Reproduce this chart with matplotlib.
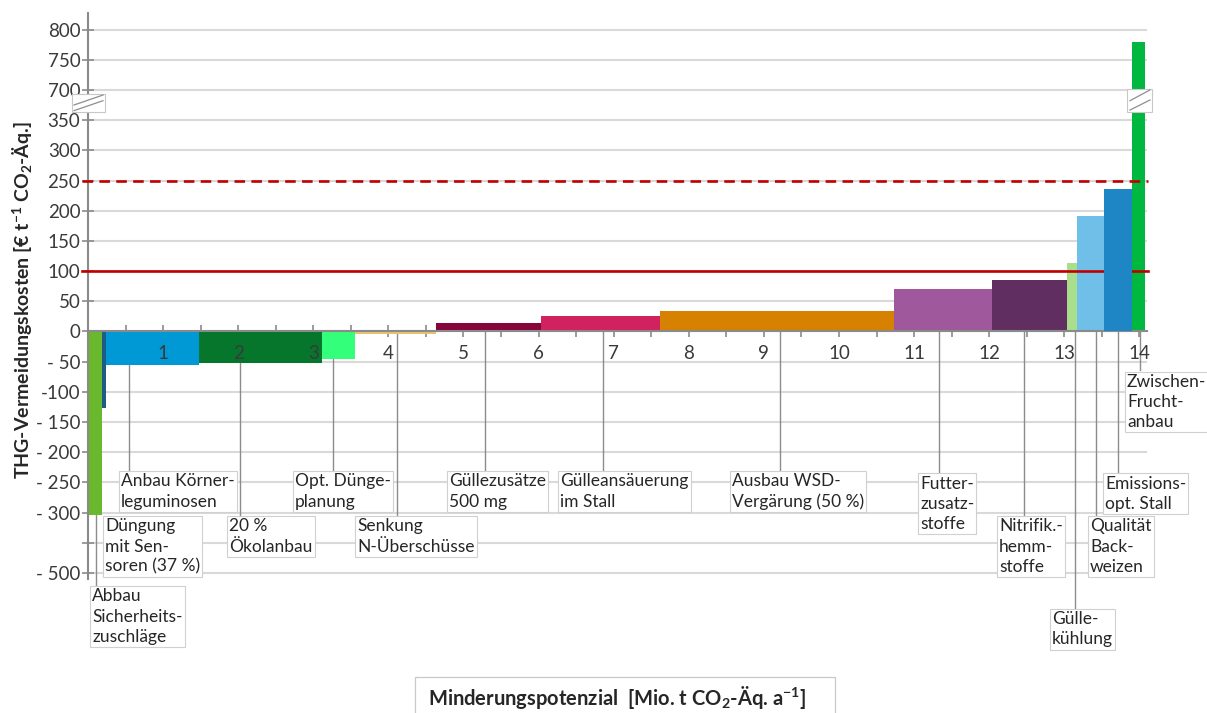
import numpy as np
import matplotlib
matplotlib.use("Agg")
import matplotlib.pyplot as plt
from matplotlib.patches import Rectangle
from matplotlib.ticker import FixedLocator, NullLocator

plt.rcParams['font.family'] = ['Lato', 'DejaVu Sans']
plt.rcParams['mathtext.fontset'] = 'custom'
plt.rcParams['mathtext.rm'] = 'Lato'
plt.rcParams['mathtext.bf'] = 'Lato:bold'
plt.rcParams['mathtext.default'] = 'bf'

# Maßnahmen (in Reihenfolge der Vermeidungskosten)
measures = [
    "Abbau\nSicherheits-\nzuschläge",
    "Düngung\nmit Sen-\nsoren (37 %)",
    "Anbau Körner-\nleguminosen",
    "20 %\nÖkolanbau",
    "Opt. Dünge-\nplanung",
    "Senkung\nN-Überschüsse",
    "Güllezusätze\n500 mg",
    "Gülleansäuerung\nim Stall",
    "Ausbau WSD-\nVergärung (50 %)",
    "Futter-\nzusatz-\nstoffe",
    "Nitrifik.-\nhemm-\nstoffe",
    "Gülle-\nkühlung",
    "Qualität\nBack-\nweizen",
    "Emissions-\nopt. Stall",
    "Zwischen-\nFrucht-\nanbau",
]
# Minderungspotenzial [Mio. t CO2-Äq. / a]
potential = [0.19, 0.055, 1.23, 1.635, 0.44, 1.09, 1.39, 1.59, 3.11,
             1.31, 1.0, 0.135, 0.35, 0.38, 0.165]
# Vermeidungskosten [€ / t CO2-Äq.]
cost = [-308, -126, -56, -53, -46, -4, 14.5, 26.5, 33.5,
        70, 86, 114, 191, 236, 780]
colors = ["#6ab82e", "#1d5c87", "#0099d5", "#05762b", "#33ff7a", "#e9c46f",
          "#85053b", "#d1215e", "#d68100", "#9e589b", "#612e62", "#a9df8c",
          "#6fbfe9", "#1f86c5", "#00b740"]

# Referenzpreise
price_low = 100
price_high = 250

y_ticks = [800, 750, 700, 350, 300, 250, 200, 150, 100, 50, 0,
           -50, -100, -150, -200, -250, -300, -400, -500]
y_ticklabels = ["800", "750", "700", "350", "300", "250", "200", "150", "100",
                "50", "0", "- 50", "-100", "- 150", "- 200", "- 250", "- 300",
                "", "- 500"]
x_ticks = list(range(1, 15))


# Unterbrochene y-Achse: 350..700 und -300..-500 gestaucht
def fwd(v):
    v = np.asarray(v, dtype=float)
    return np.where(v >= 700, v - 300,
                    np.where(v > 350, 350 + (v - 350) / 7.0,
                             np.where(v >= -300, v, -300 + (v + 300) / 2.0)))


def inv(d):
    d = np.asarray(d, dtype=float)
    return np.where(d >= 400, d + 300,
                    np.where(d > 350, 350 + (d - 350) * 7.0,
                             np.where(d >= -300, d, -300 + (d + 300) * 2.0)))


fig = plt.figure(figsize=(12.07, 7.13), dpi=100)
ax = fig.add_axes([0.0729, 0.1881, 0.8773, 0.7938])
ax.set_yscale('function', functions=(fwd, inv))
ax.set_xlim(0, 14.1)
ax.set_ylim(-520, 828)
ax.set_axisbelow(True)

grey = "#8a8a8a"
txt = "#3a3a3a"
for s in ['top', 'right']:
    ax.spines[s].set_visible(False)
ax.spines['left'].set_color(grey)
ax.spines['left'].set_linewidth(1.5)
ax.spines['bottom'].set_position(('data', 0))
ax.spines['bottom'].set_color(grey)
ax.spines['bottom'].set_linewidth(1.5)

ax.yaxis.set_major_locator(FixedLocator(y_ticks))
ax.yaxis.set_minor_locator(NullLocator())
ax.set_yticklabels(y_ticklabels)
ax.tick_params(axis='y', direction='inout', length=9, width=1.2, color=grey,
               labelsize=13.5, labelcolor=txt, pad=1)
ax.grid(axis='y', color="#d9d9d9", lw=1.5)

ax.xaxis.set_major_locator(FixedLocator(np.arange(0.5, 14.01, 0.5)))
ax.xaxis.set_minor_locator(NullLocator())
ax.tick_params(axis='x', direction='inout', length=9, width=1.2, color=grey,
               labelbottom=False)
for t in x_ticks:
    ax.text(t, -37, str(t), ha='center', va='center', fontsize=13.5,
            color=txt, zorder=6)

# Balken der Grenzvermeidungskostenkurve
left = np.concatenate([[0.0], np.cumsum(potential)[:-1]])
bars = ax.bar(left, cost, width=potential, align='edge', color=colors,
              linewidth=0, zorder=2)
bars[13].set_zorder(3.5)

ax.plot([-0.08, 14.11], [price_low, price_low], color="#c00000", lw=1.9,
        clip_on=False, zorder=3)
ax.plot([-0.08, 14.11], [price_high, price_high], color="#c00000", lw=1.9,
        ls=(0, (4, 2.4)), clip_on=False, zorder=3)

# Achsenbruch-Markierungen
xt = ax.get_xaxis_transform()
for x0, x1, y0, y1, l1, l2 in [
        (-0.213, 0.226, 0.8245, 0.856, (-0.186, 0.8373, 0.20, 0.8549),
         (-0.186, 0.8273, 0.20, 0.8449)),
        (13.839, 14.164, 0.8245, 0.8656, (13.875, 0.8449, 14.141, 0.8639),
         (13.875, 0.8284, 14.141, 0.8461))]:
    ax.add_patch(Rectangle((x0, y0), x1 - x0, y1 - y0, transform=xt,
                           facecolor='white', edgecolor="#c8c8c8", lw=0.8,
                           clip_on=False, zorder=5))
    for (a, b, c, d) in (l1, l2):
        ax.plot([a, c], [b, d], transform=xt, color="#8f8f8f", lw=0.9,
                clip_on=False, zorder=6)

# Beschriftungen mit Führungslinien
box_pos = [(0.027, -540), (0.200, -308), (0.413, -229.5), (1.851, -308),
           (2.730, -229.5), (3.555, -308), (4.780, -229.5), (6.258, -229.5),
           (8.549, -229.5), (11.052, -233), (12.104, -308), (12.809, -616),
           (13.316, -308), (13.515, -233), (13.808, -64)]
leader_x = [0.107, None, 0.546, 2.024, 3.262, 4.115, 5.286, 6.858, 9.214,
            11.331, 12.463, 13.143, 13.422, 13.715, 14.008]

for lab, val, (bx, by), lx in zip(measures, cost, box_pos, leader_x):
    if lx is not None:
        ax.plot([lx, lx], [min(val, 0), by], color="#8c8c8c", lw=1.0,
                clip_on=False, zorder=1.5)
    ax.annotate(lab, xy=(bx, by), xytext=(1.5, -2.5), textcoords='offset points',
                ha='left', va='top', fontsize=12.5, color="#262626",
                linespacing=1.32, annotation_clip=False, zorder=5,
                bbox=dict(boxstyle='square,pad=0.12', fc='white',
                          ec="#d0d0d0", lw=0.8))

fig.text(0.0182, 0.579,
         r"THG-Vermeidungskosten [€ t$^{-1}$ CO$_2$-Äq.]",
         rotation=90, ha='center', va='center', fontsize=14,
         fontweight='bold', color="#262626")

fig.add_artist(Rectangle((0.3438, -0.01), 0.348, 0.0605,
                         transform=fig.transFigure, facecolor='white',
                         edgecolor="#c8c8c8", lw=0.9))
fig.text(0.5116, 0.0224,
         r"Minderungspotenzial  [Mio. t CO$_2$-Äq. a$^{-1}$]",
         ha='center', va='center', fontsize=14.5, fontweight='bold',
         color="#262626")

fig.savefig("out.png", dpi=100)
